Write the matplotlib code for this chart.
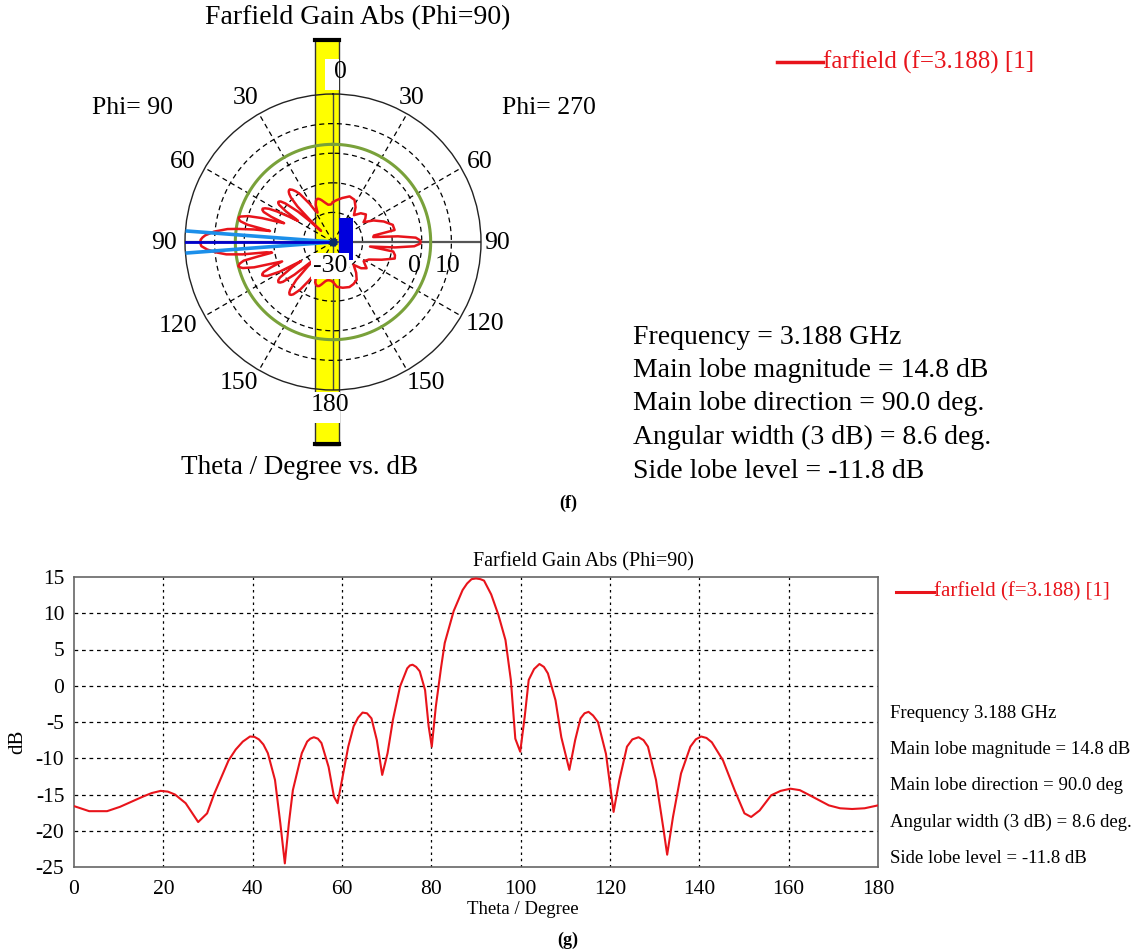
import numpy as np
import matplotlib
matplotlib.use("Agg")
import matplotlib.pyplot as plt
from matplotlib.patches import Rectangle
from matplotlib.lines import Line2D

plt.rcParams['font.family'] = ['Liberation Serif', 'DejaVu Serif']
plt.rcParams['axes.unicode_minus'] = False

# ---------------- data ----------------
# Phi = 90 cut (theta 0..180)
theta_g = [0, 3.4, 7.4, 10.3, 15.4, 17.4, 19.4, 21.0, 22.6, 25,
           27.8, 29.8, 31.4, 34.6, 36.2, 37.8, 39.4, 40.4, 41.4, 42.4,
           43.4, 45, 46.2, 47.2, 48.1, 49, 51, 52.2, 52.9, 53.7,
           54.6, 55.4, 57, 58.2, 59, 60, 61.4, 62.6, 63.6, 64.6,
           65.6, 66.6, 67.8, 69, 70.2, 71.4, 73, 74.6, 75.2, 75.8,
           76.6, 77.4, 78.6, 79.4, 80.1, 81, 82.2, 83, 85, 87,
           88, 89, 90, 91, 91.8, 93.4, 95, 96.6, 97.8, 98.8,
           99.9, 100.9, 101.8, 103, 104.2, 105.2, 106.1, 107.8, 109.1, 110.9,
           112.2, 113.4, 114.3, 115.2, 116.2, 117.3, 119.1, 120.8, 122.1, 123.8,
           125, 126.4, 127.5, 128.5, 130.3, 132, 132.8, 134.1, 135.9, 138,
           139.2, 140.4, 141.6, 142.8, 145.3, 147.9, 150.1, 151.6, 153.5, 156.1,
           158.2, 160.4, 162.5, 164.7, 169, 171.5, 174.2, 177, 180]
gain_g = [-16.6, -17.3, -17.3, -16.7, -15.3, -14.8, -14.5, -14.6, -15.0, -16.2,
          -18.8, -17.6, -14.9, -10.3, -8.8, -7.7, -7.0, -7.05, -7.4, -8.1,
          -9.3, -13.0, -19.0, -24.5, -19.0, -14.4, -9.3, -7.7, -7.3, -7.1,
          -7.3, -7.9, -11.2, -15.3, -16.2, -13.0, -8.4, -5.6, -4.4, -3.7,
          -3.8, -4.5, -7.5, -12.3, -9.3, -4.7, -0.1, 2.4, 2.8, 2.9,
          2.6, 2.0, -0.6, -5.6, -8.4, -2.9, 2.6, 5.9, 10.3, 13.2,
          14.1, 14.7, 14.8, 14.7, 14.5, 12.6, 9.8, 6.3, 0.8, -7.3,
          -9.1, -4.3, 0.8, 2.3, 3.0, 2.6, 1.7, -2.0, -7.1, -11.6,
          -7.5, -4.5, -3.8, -3.6, -4.1, -5.0, -9.4, -17.4, -13.0, -8.4,
          -7.4, -7.1, -7.5, -8.4, -13.0, -19.9, -23.3, -18.1, -12.1, -8.4,
          -7.4, -7.0, -7.2, -7.8, -10.3, -14.4, -17.6, -18.1, -17.2, -15.1,
          -14.5, -14.2, -14.4, -15.1, -16.5, -16.9, -17.0, -16.9, -16.5]

# Phi = 270 half of the polar plot
theta_b = [0, 5, 12, 20, 27, 33, 38, 44, 50, 54,
           57, 62, 68, 74, 79, 81, 83, 85, 87, 89,
           90, 91, 93, 95, 97, 99, 102, 105, 110, 116,
           122, 128, 133, 138, 143, 148, 154, 160, 168, 175, 180]
gain_b = [-16.5, -15.8, -14.8, -13.6, -14.0, -16.0, -18.5, -16.5, -15.5, -16.5,
          -17.7, -14.5, -11.5, -9.0, -8.8, -16.0, -16.3, -8.0, -2.0, -0.5,
          -0.4, -0.5, -2.5, -9.0, -17.4, -9.4, -8.6, -8.4, -12.5, -16.5,
          -17.8, -15.6, -17.0, -19.6, -17.0, -14.9, -14.2, -13.8, -14.2, -14.8, -16.5]

freq = 3.188
main_mag = 14.8
main_dir = 90.0
ang_width = 8.6
side_lobe = -11.8

polar_angle_labels = ['0', '30', '60', '90', '120', '150', '180']
radial_labels = ['-30', '0', '10']
x_ticks = [0, 20, 40, 60, 80, 100, 120, 140, 160, 180]
y_ticks = [-25, -20, -15, -10, -5, 0, 5, 10, 15]

legend_label = 'farfield (f=%.3f) [1]' % freq
info_top = ['Frequency = %.3f GHz' % freq,
            'Main lobe magnitude = %.1f dB' % main_mag,
            'Main lobe direction = %.1f deg.' % main_dir,
            'Angular width (3 dB) = %.1f deg.' % ang_width,
            'Side lobe level = %.1f dB' % side_lobe]
info_bot = ['Frequency %.3f GHz' % freq,
            'Main lobe magnitude = %.1f dB' % main_mag,
            'Main lobe direction = %.1f deg' % main_dir,
            'Angular width (3 dB) = %.1f deg.' % ang_width,
            'Side lobe level = %.1f dB' % side_lobe]

# ---------------- figure ----------------
W, H = 1143, 951
fig = plt.figure(figsize=(W / 100, H / 100), dpi=100)
fig.patch.set_facecolor('white')


def P(x, y):
    return (x / W, 1 - y / H)


def rect_px(x0, y0, x1, y1, **kw):
    r = Rectangle((x0 / W, 1 - y1 / H), (x1 - x0) / W, (y1 - y0) / H,
                  transform=fig.transFigure, **kw)
    fig.add_artist(r)
    return r


def line_px(x0, y0, x1, y1, **kw):
    l = Line2D([x0 / W, x1 / W], [1 - y0 / H, 1 - y1 / H],
               transform=fig.transFigure, **kw)
    fig.add_artist(l)
    return l


RED = '#E8141B'

# ---- polar plot ----
cx, cy, R = 333, 242, 148
ax = fig.add_axes([(cx - R) / W, 1 - (cy + R) / H, 2 * R / W, 2 * R / H],
                  projection='polar')
ax.set_theta_zero_location('N')
ax.set_theta_direction(1)
rmin, rmax = -30, 20
ax.set_rlim(rmin, rmax)
ax.set_facecolor('none')
ax.grid(False)
ax.set_xticks([])
ax.set_yticks([])
ax.spines['polar'].set_color('#222222')
ax.spines['polar'].set_linewidth(1.0)

tt = np.linspace(0, 2 * np.pi, 721)
for rv in [-20, -10, 0, 10]:
    ax.plot(tt, np.full_like(tt, rv), color='black', lw=0.9, ls=(0, (4, 3)))
for a in [30, 60, 120, 150]:
    for s in (1, -1):
        ax.plot([np.radians(s * a)] * 2, [rmin, rmax], color='black', lw=0.9,
                ls=(0, (4, 3)))
ax.plot([np.radians(90)] * 2, [rmin, rmax], color='#555555', lw=1.6)
ax.plot([np.radians(-90)] * 2, [rmin, rmax], color='#555555', lw=1.6)
ax.plot([0, 0], [rmin, rmax], color='#444444', lw=1.0)
ax.plot([np.pi, np.pi], [rmin, rmax], color='#444444', lw=1.0)

# side-lobe level circle
ax.plot(tt, np.full_like(tt, main_mag + side_lobe), color='#79A13A', lw=2.2)

# pattern
ax.plot(np.radians(theta_g), gain_g, color=RED, lw=1.8, zorder=4)
ax.plot(-np.radians(theta_b), gain_b, color=RED, lw=1.8, zorder=4)

# main lobe markers
for d in (-ang_width / 2, ang_width / 2):
    ax.plot([np.radians(main_dir + d)] * 2, [rmin, rmax], color='#1C8FEA',
            lw=2.6, zorder=5)
ax.plot([np.radians(main_dir)] * 2, [rmin, rmax], color='#0000CC', lw=2.0,
        zorder=6)
ax.plot([0], [rmin], marker='o', ms=5, color='#0A2A6A', zorder=7)

# yellow bar and label boxes (figure level, behind the polar axes)
rect_px(315, 39, 339, 445, facecolor='#FFFF00', edgecolor='#333333', lw=1.0,
        zorder=-2)
line_px(315, 40, 339, 40, color='black', lw=3, zorder=-1)
line_px(315, 444, 339, 444, color='black', lw=3, zorder=-1)
rect_px(325, 59, 339, 90, facecolor='white', edgecolor='none', zorder=-1)
rect_px(314, 392, 340, 423, facecolor='white', edgecolor='none', zorder=-1)
# blue marker block
rect_px(339, 218, 353, 260, facecolor='#0000DD', edgecolor='none', zorder=5)

FS_P = 18.5
ang_pos = {
    '0': [(340, 72)],
    '30': [(246, 98), (412, 98)],
    '60': [(183, 162), (480, 162)],
    '90': [(164, 243), (497, 243)],
    '120': [(178, 326), (485, 324)],
    '150': [(239, 383), (426, 383)],
    '180': [(330, 405)],
}
for lab in polar_angle_labels:
    for (x, y) in ang_pos[lab]:
        fig.text(*P(x, y), lab, ha='center', va='center', fontsize=FS_P,
                 zorder=6)

rad_pos = {'-30': (330, 266), '0': (414, 266), '10': (448, 266)}
for lab in radial_labels:
    x, y = rad_pos[lab]
    kw = {}
    if lab == '-30':
        kw['bbox'] = dict(facecolor='white', edgecolor='none', pad=1.5)
    fig.text(*P(x, y), lab, ha='center', va='center', fontsize=FS_P,
             zorder=7, **kw)

fig.text(*P(358, 18), 'Farfield Gain Abs (Phi=90)', ha='center', va='center',
         fontsize=20)
fig.text(*P(133, 108), 'Phi= 90', ha='center', va='center', fontsize=FS_P)
fig.text(*P(549, 108), 'Phi= 270', ha='center', va='center', fontsize=FS_P)
fig.text(*P(300, 467), 'Theta / Degree vs. dB', ha='center', va='center',
         fontsize=19.5)

# top legend + info
line_px(777, 62, 823, 62, color=RED, lw=2.5)
fig.text(*P(823, 62), legend_label, ha='left', va='center', fontsize=18,
         color=RED)
for i, s in enumerate(info_top):
    fig.text(*P(633, 337 + i * 33.5), s, ha='left', va='center', fontsize=20)

fig.text(*P(568, 503), '(f)', ha='center', va='center', fontsize=13,
         fontweight='bold')

# ---- cartesian plot ----
L, Rr, T, B = 74, 878, 577, 867
ax2 = fig.add_axes([L / W, 1 - B / H, (Rr - L) / W, (B - T) / H])
ax2.plot(theta_g, gain_g, color=RED, lw=1.5, zorder=3)
ax2.set_xlim(0, 180)
ax2.set_ylim(-25, 15)
ax2.set_xticks(x_ticks)
ax2.set_yticks(y_ticks)
ax2.set_xticklabels([str(v) for v in x_ticks], fontsize=15.5)
ax2.set_yticklabels([str(v) for v in y_ticks], fontsize=15.5)
ax2.tick_params(axis='x', length=0, pad=9)
ax2.tick_params(axis='y', length=0, pad=7)
for v in x_ticks[1:-1]:
    ax2.axvline(v, color='black', lw=0.9, ls=(0, (2, 3)), zorder=1)
for v in y_ticks[1:-1]:
    ax2.axhline(v, color='black', lw=0.9, ls=(0, (3, 3)), zorder=1)
for sp in ax2.spines.values():
    sp.set_color('#666666')
    sp.set_linewidth(1.2)

fig.text(*P(583, 562), 'Farfield Gain Abs (Phi=90)', ha='center',
         va='center', fontsize=14.5)
fig.text(*P(523, 910), 'Theta / Degree', ha='center', va='center',
         fontsize=13.5)
fig.text(*P(18, 742), 'dB', ha='center', va='center', fontsize=15,
         rotation=90)

line_px(896, 592, 934, 592, color=RED, lw=2.2)
fig.text(*P(934, 592), legend_label, ha='left', va='center', fontsize=15,
         color=RED)
for i, s in enumerate(info_bot):
    fig.text(*P(890, 713 + i * 36.3), s, ha='left', va='center', fontsize=13.5)

fig.text(*P(568, 940), '(g)', ha='center', va='center', fontsize=13,
         fontweight='bold')

fig.savefig('out.png', dpi=100, facecolor='white')
